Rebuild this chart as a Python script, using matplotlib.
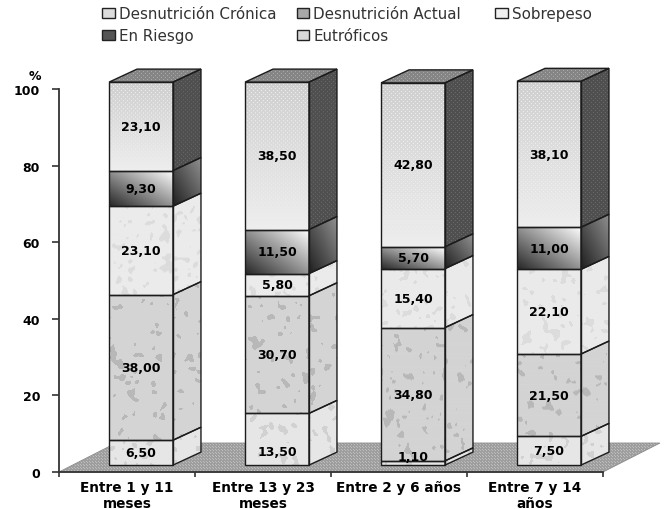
import numpy as np
import matplotlib
matplotlib.use('Agg')
import matplotlib.pyplot as plt
from matplotlib.patches import Patch, Polygon

categorias = ['Entre 1 y 11\nmeses', 'Entre 13 y 23\nmeses', 'Entre 2 y 6 años', 'Entre 7 y 14\naños']
cronica = [6.5, 13.5, 1.1, 7.5]
actual = [38.0, 30.7, 34.8, 21.5]
sobrepeso = [23.1, 5.8, 15.4, 22.1]
riesgo = [9.3, 11.5, 5.7, 11.0]
eutroficos = [23.1, 38.5, 42.8, 38.1]
series = [cronica, actual, sobrepeso, riesgo, eutroficos]
yticks = [0, 20, 40, 60, 80, 100]

W, H = 666, 510
PX_X = 136.0      # pixels per category
PX_Y = 3.83       # pixels per percent
DX = 28 / PX_X    # bar depth
DY = 13 / PX_Y
BASE = 1.8        # front of the bars sits above the axis line
ANCHO = 0.47
OFF = 0.603
FLOOR_DX = 57 / PX_X
FLOOR_DY = 29 / PX_Y
EDGE = '#1c1c1c'

fig = plt.figure(figsize=(W / 100, H / 100), dpi=100)
ax = fig.add_axes([59 / W, (H - 473) / H, 544 / W, 383 / H])
ax.patch.set_visible(False)
rng = np.random.default_rng(7)


def blobs(h, w, size):
    n = rng.random((h, w))
    fy = np.fft.fftfreq(h)[:, None]
    fx = np.fft.fftfreq(w)[None, :]
    g = np.exp(-(fx**2 + fy**2) * (size**2) * 20)
    return np.real(np.fft.ifft2(np.fft.fft2(n) * g))


def mottled(h, w, base, blob, thr=1.1):
    n = blobs(h, w, 2.0)
    img = np.full((h, w), base, dtype=float)
    img[n > n.mean() + thr * n.std()] = blob
    return img


def dots(img, color, step=4):
    img = img.copy()
    img[::step, ::step] = color
    img[step // 2::step, step // 2::step] = color
    return img


def textura(k, h, w, lado):
    h, w = max(h, 3), max(w, 3)
    if k == 0:
        return mottled(h, w, 0.90, 0.82, 1.3)
    if k == 1:
        return mottled(h, w, 0.83, 0.72, 1.4)
    if k == 2:
        return mottled(h, w, 0.92, 0.86, 1.2)
    yy, xx = np.mgrid[0:h, 0:w]
    if k == 3:
        # diagonal gradient, dark at the lower left corner
        t = 0.5 * xx / w + 0.5 * (h - yy) / h
        if lado:
            return 0.12 + 0.45 * t
        return 0.15 + 0.85 * t
    if lado:
        return dots(np.full((h, w), 0.31), 0.42)
    t = yy / h
    return dots(0.81 + 0.12 * t, 0.93)


def pinta(poly, img, zorder):
    xs = [p[0] for p in poly]
    ys = [p[1] for p in poly]
    im = ax.imshow(img, extent=[min(xs), max(xs), min(ys), max(ys)], cmap='gray',
                   vmin=0, vmax=1, aspect='auto', interpolation='bilinear', zorder=zorder)
    pg = Polygon(poly, closed=True, fc='none', ec=EDGE, lw=1.0, zorder=zorder + 0.1, clip_on=False)
    ax.add_patch(pg)
    im.set_clip_path(pg)
    im.set_clip_box(fig.bbox)


# floor
piso = [(0, 0), (4, 0), (4 + FLOOR_DX, FLOOR_DY), (FLOOR_DX, FLOOR_DY)]
fl = dots(np.full((29, 601), 0.62), 0.74, 3)
im = ax.imshow(fl, extent=[0, 4 + FLOOR_DX, 0, FLOOR_DY], cmap='gray', vmin=0, vmax=1,
               aspect='auto', interpolation='bilinear', zorder=1)
pg = Polygon(piso, closed=True, fc='none', ec='#8a8a8a', lw=0.6, zorder=1.1, clip_on=False)
ax.add_patch(pg)
im.set_clip_path(pg)
im.set_clip_box(fig.bbox)

# the two labels that were moved off the middle of their segment
desvio = {(1, 0): -3.1, (2, 0): 1.7}

for i in range(len(categorias)):
    x = i + OFF
    x0, x1 = x - ANCHO / 2, x + ANCHO / 2
    abajo = BASE
    for k, s in enumerate(series):
        v = s[i]
        h = int(round(v * PX_Y))
        img = textura(k, h, 64, False)
        ax.imshow(img, extent=[x0, x1, abajo, abajo + v], cmap='gray', vmin=0, vmax=1,
                  aspect='auto', interpolation='bilinear', zorder=2, clip_on=False)
        ax.bar(x, v, ANCHO, bottom=abajo, fc='none', ec=EDGE, lw=1.0, zorder=2.1, clip_on=False)
        lado = [(x1, abajo), (x1 + DX, abajo + DY), (x1 + DX, abajo + v + DY), (x1, abajo + v)]
        pinta(lado, textura(k, h + 13, 28, True), 2)
        ax.text(x, abajo + v / 2 + desvio.get((i, k), 0), f'{v:.2f}'.replace('.', ','),
                ha='center', va='center', fontsize=9, fontweight='bold', color='black', zorder=5)
        abajo += v
    tapa = [(x0, abajo), (x0 + DX, abajo + DY), (x1 + DX, abajo + DY), (x1, abajo)]
    pinta(tapa, dots(np.full((13, 92), 0.52), 0.66), 2)

ax.set_xlim(0, 4)
ax.set_ylim(0, 100)
for lado_sp in ['top', 'right']:
    ax.spines[lado_sp].set_visible(False)
for lado_sp in ['left', 'bottom']:
    ax.spines[lado_sp].set_color('#333333')
    ax.spines[lado_sp].set_linewidth(1.3)
    ax.spines[lado_sp].set_zorder(1.5)
ax.set_yticks(yticks)
ax.set_yticklabels([str(t) for t in yticks], fontsize=9, fontweight='bold')
ax.tick_params(axis='y', length=5, width=1.2, color='#333333', pad=8.6)
ax.set_xticks(range(5))
ax.set_xticklabels([])
ax.tick_params(axis='x', which='major', length=3.6, width=1.2, color='#333333')
ax.set_xticks([i + 0.5 for i in range(4)], minor=True)
ax.set_xticklabels(categorias, minor=True, fontsize=9.8, fontweight='bold', linespacing=1.12)
ax.tick_params(axis='x', which='minor', length=0, pad=6)
ax.text(35 / W, (H - 76) / H, '%', transform=fig.transFigure, ha='center', va='center',
        fontsize=9, fontweight='bold')

# legend
fc = ['#dcdcdc', '#a8a8a8', '#f0f0f0', '#555555', '#d8d8d8']
nombres = ['Desnutrición Crónica', 'Desnutrición Actual', 'Sobrepeso', 'En Riesgo', 'Eutróficos']
h = [Patch(fc=c, ec='#222222', lw=1.0) for c in fc]
opts = dict(frameon=False, fontsize=10.9, labelcolor='#333333', handlelength=0.85, handleheight=0.65,
            handletextpad=0.25, borderpad=0, borderaxespad=0, labelspacing=0.46,
            loc='upper left', bbox_transform=fig.transFigure)
leg = ax.legend([h[0], h[3], h[1], h[4]], [nombres[0], nombres[3], nombres[1], nombres[4]], ncol=2,
                columnspacing=1.35, bbox_to_anchor=(102 / W, (H - 7) / H), **opts)
ax.add_artist(leg)
ax.legend([h[2]], [nombres[2]], bbox_to_anchor=(495 / W, (H - 7) / H), **opts)

fig.savefig('out.png', dpi=100)
